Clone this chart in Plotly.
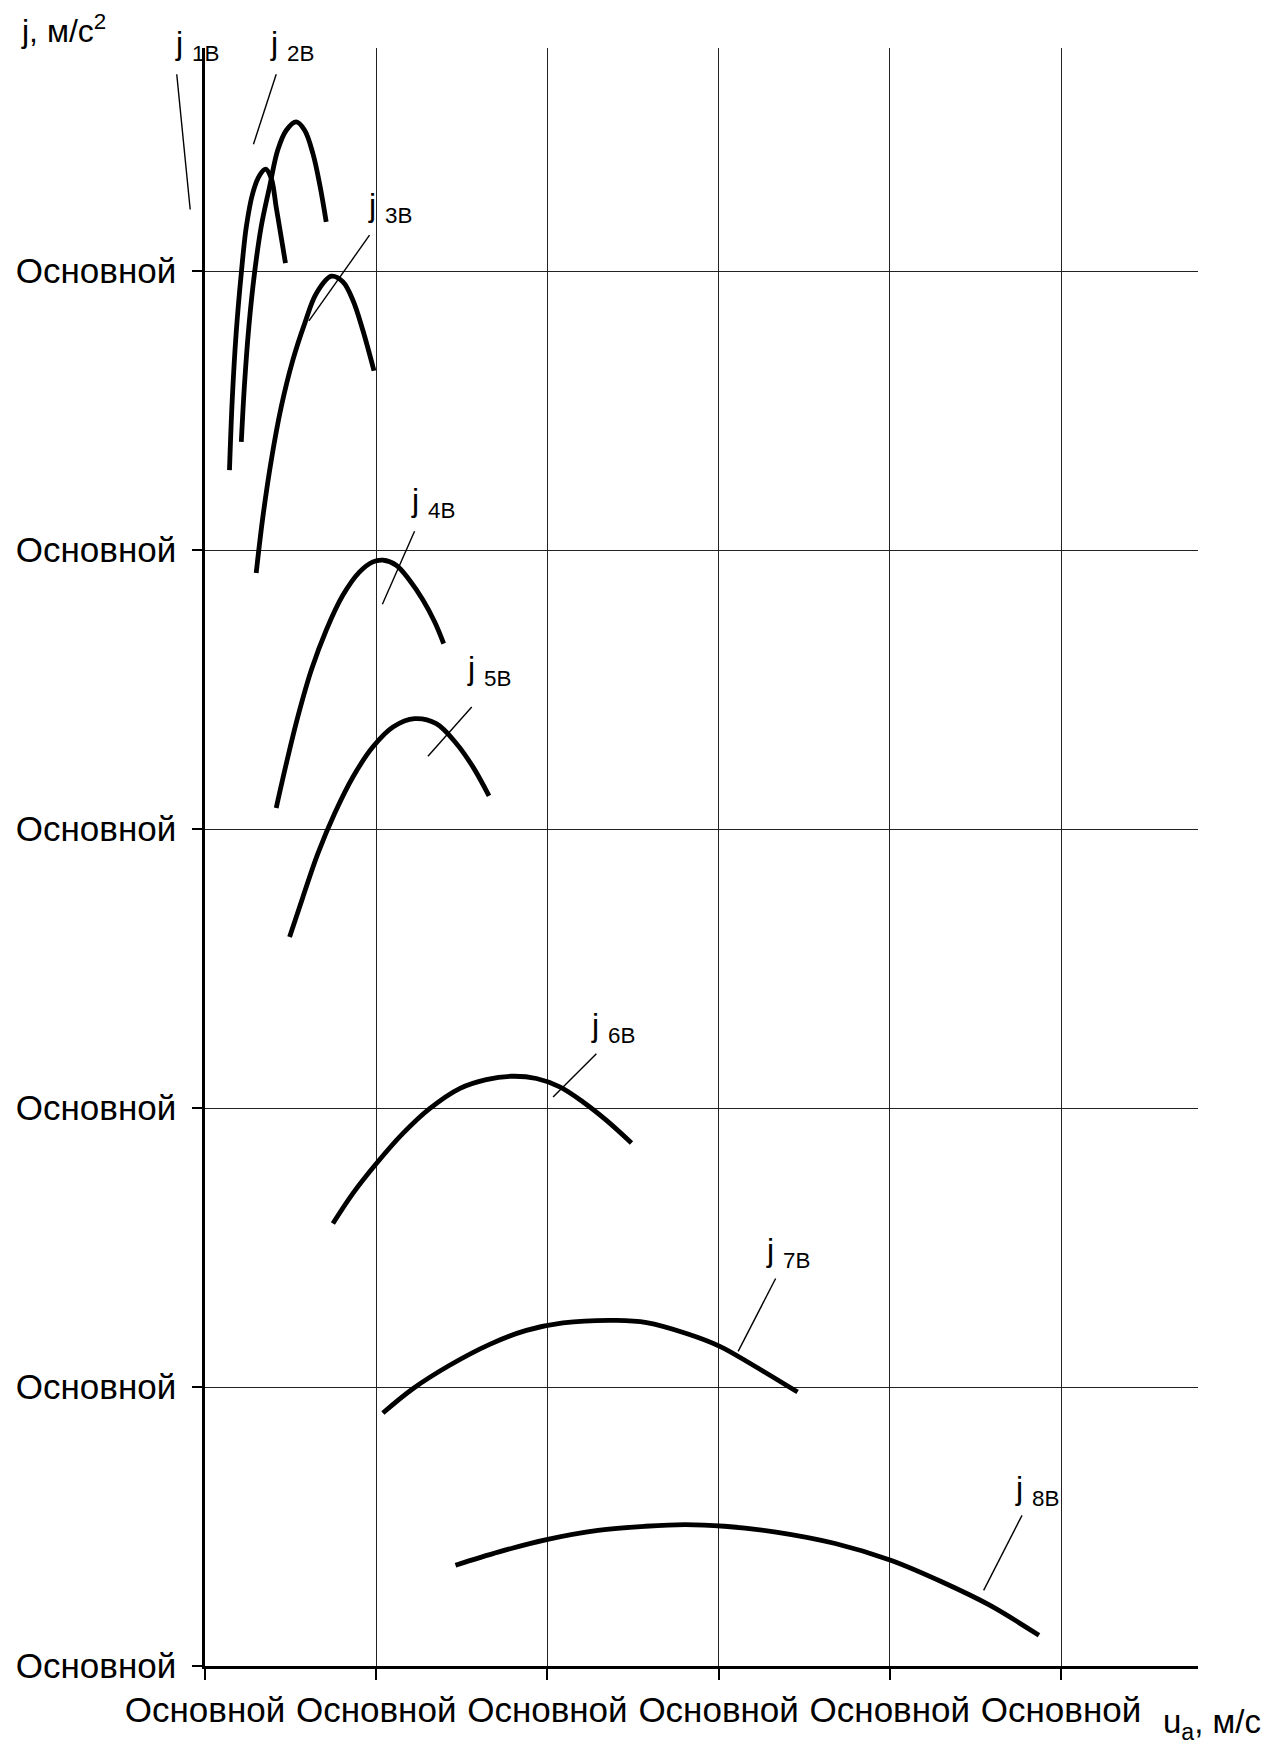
import plotly.graph_objects as go

# ---------------- data ----------------
u1 = [0.143, 0.159, 0.182, 0.212, 0.241, 0.279, 0.319, 0.354, 0.387, 0.416, 0.445, 0.470]
j1 = [4.287, 4.538, 4.778, 4.993, 5.158, 5.280, 5.344, 5.366, 5.333, 5.229, 5.122, 5.029]

u2 = [0.212, 0.231, 0.256, 0.289, 0.328, 0.377, 0.425, 0.475, 0.533, 0.582, 0.630, 0.669, 0.708]
j2 = [4.388, 4.597, 4.800, 4.992, 5.159, 5.302, 5.434, 5.505, 5.535, 5.505, 5.422, 5.314, 5.177]

u3 = [0.299, 0.338, 0.387, 0.445, 0.513, 0.582, 0.650, 0.738, 0.805, 0.864, 0.922, 0.987]
j3 = [3.918, 4.119, 4.322, 4.513, 4.681, 4.812, 4.920, 4.982, 4.962, 4.896, 4.788, 4.643]

u4 = [0.416, 0.475, 0.542, 0.621, 0.708, 0.805, 0.903, 0.981, 1.039, 1.117, 1.195, 1.273, 1.341, 1.394]
j4 = [3.076, 3.235, 3.402, 3.570, 3.713, 3.838, 3.922, 3.958, 3.964, 3.946, 3.892, 3.821, 3.743, 3.665]

u5 = [0.494, 0.572, 0.659, 0.757, 0.864, 0.981, 1.098, 1.224, 1.351, 1.468, 1.565, 1.659]
j5 = [2.613, 2.757, 2.912, 3.056, 3.187, 3.295, 3.366, 3.396, 3.378, 3.307, 3.223, 3.119]

u6 = [0.747, 0.864, 1.001, 1.156, 1.312, 1.487, 1.643, 1.790, 1.936, 2.072, 2.208, 2.345, 2.491]
j6 = [1.586, 1.694, 1.801, 1.909, 1.998, 2.070, 2.102, 2.114, 2.106, 2.076, 2.022, 1.956, 1.875]

u7 = [1.039, 1.214, 1.429, 1.663, 1.877, 2.091, 2.403, 2.579, 2.812, 3.007, 3.202, 3.461]
j7 = [0.907, 0.994, 1.078, 1.153, 1.203, 1.230, 1.239, 1.231, 1.192, 1.146, 1.078, 0.982]

u8 = [1.463, 1.717, 1.995, 2.295, 2.572, 2.804, 3.034, 3.335, 3.681, 4.005, 4.306, 4.583, 4.871]
j8 = [0.361, 0.409, 0.453, 0.486, 0.501, 0.507, 0.501, 0.480, 0.439, 0.379, 0.301, 0.218, 0.110]

curve_names = ["1В", "2В", "3В", "4В", "5В", "6В", "7В", "8В"]

# label anchor (data units) and leader lines (start -> end, data units)
label_u = [-0.174, 0.381, 0.951, 1.205, 1.530, 2.253, 3.274, 4.731]
label_j = [5.749, 5.749, 5.170, 4.110, 3.510, 2.229, 1.422, 0.569]
lead_u0 = [-0.165, 0.416, 0.961, 1.224, 1.558, 2.286, 3.333, 4.772]
lead_j0 = [5.706, 5.706, 5.129, 4.068, 3.438, 2.195, 1.389, 0.540]
lead_u1 = [-0.0865, 0.283, 0.607, 1.036, 1.302, 2.033, 3.114, 4.548]
lead_j1 = [5.221, 5.455, 4.822, 3.806, 3.261, 2.040, 1.128, 0.271]

x_tickvals = [0, 1, 2, 3, 4, 5]
x_ticktext = ["Основной"] * 6
y_tickvals = [0, 1, 2, 3, 4, 5]
y_ticktext = ["Основной"] * 6

X_RANGE = [0, 5.8]
Y_RANGE = [0, 5.8]

FONT = "Liberation Sans, Arial, sans-serif"

# ---------------- figure ----------------
fig = go.Figure()
for uu, jj in [(u1, j1), (u2, j2), (u3, j3), (u4, j4), (u5, j5), (u6, j6), (u7, j7), (u8, j8)]:
    fig.add_trace(go.Scatter(x=uu, y=jj, mode="lines",
                             line=dict(color="black", width=4.8, shape="spline", smoothing=1.0),
                             hoverinfo="skip"))


def dom(v, r):
    return (v - r[0]) / (r[1] - r[0])


for i, name in enumerate(curve_names):
    fig.add_shape(type="line", xref="x domain", yref="y domain",
                  x0=dom(lead_u0[i], X_RANGE), y0=dom(lead_j0[i], Y_RANGE),
                  x1=dom(lead_u1[i], X_RANGE), y1=dom(lead_j1[i], Y_RANGE),
                  line=dict(color="black", width=1.4))
    fig.add_annotation(xref="x domain", yref="y domain",
                       x=dom(label_u[i], X_RANGE), y=dom(label_j[i], Y_RANGE),
                       xanchor="left", yanchor="bottom", showarrow=False,
                       xshift=-2, yshift=-6,
                       text="j <sub>" + name + "</sub>",
                       font=dict(family=FONT, size=32, color="black"))

# axis titles
fig.add_annotation(xref="paper", yref="paper", x=-0.1875, y=1.0115,
                   xanchor="left", yanchor="middle", showarrow=False,
                   text="j, м/с<sup>2</sup>", font=dict(family=FONT, size=32, color="black"))
fig.add_annotation(xref="paper", yref="paper", x=0.9625, y=-0.0358,
                   xanchor="left", yanchor="middle", showarrow=False,
                   text="u<sub>a</sub>, м/с", font=dict(family=FONT, size=33, color="black"))

axis_common = dict(showgrid=True, gridcolor="#222", gridwidth=1,
                   showline=True, linecolor="black", linewidth=2.5,
                   ticks="outside", tickwidth=2, tickcolor="black",
                   zeroline=False, tickfont=dict(family=FONT, size=35, color="black"),
                   fixedrange=True, automargin=False)
fig.update_xaxes(range=X_RANGE, tickmode="array", tickvals=x_tickvals, ticktext=x_ticktext,
                 ticklen=11, **axis_common)
fig.update_yaxes(range=Y_RANGE, tickmode="array", tickvals=y_tickvals, ticktext=y_ticktext,
                 ticklen=10, ticklabelstandoff=9, **axis_common)

# the page adds an 8 px body margin, so the figure is 16 px smaller than the window
fig.update_layout(width=1264, height=1737,
                  margin=dict(l=197, r=74, t=40, b=79),
                  plot_bgcolor="white", paper_bgcolor="white",
                  showlegend=False,
                  font=dict(family=FONT, size=35, color="black"))

fig.write_html("out.html")
